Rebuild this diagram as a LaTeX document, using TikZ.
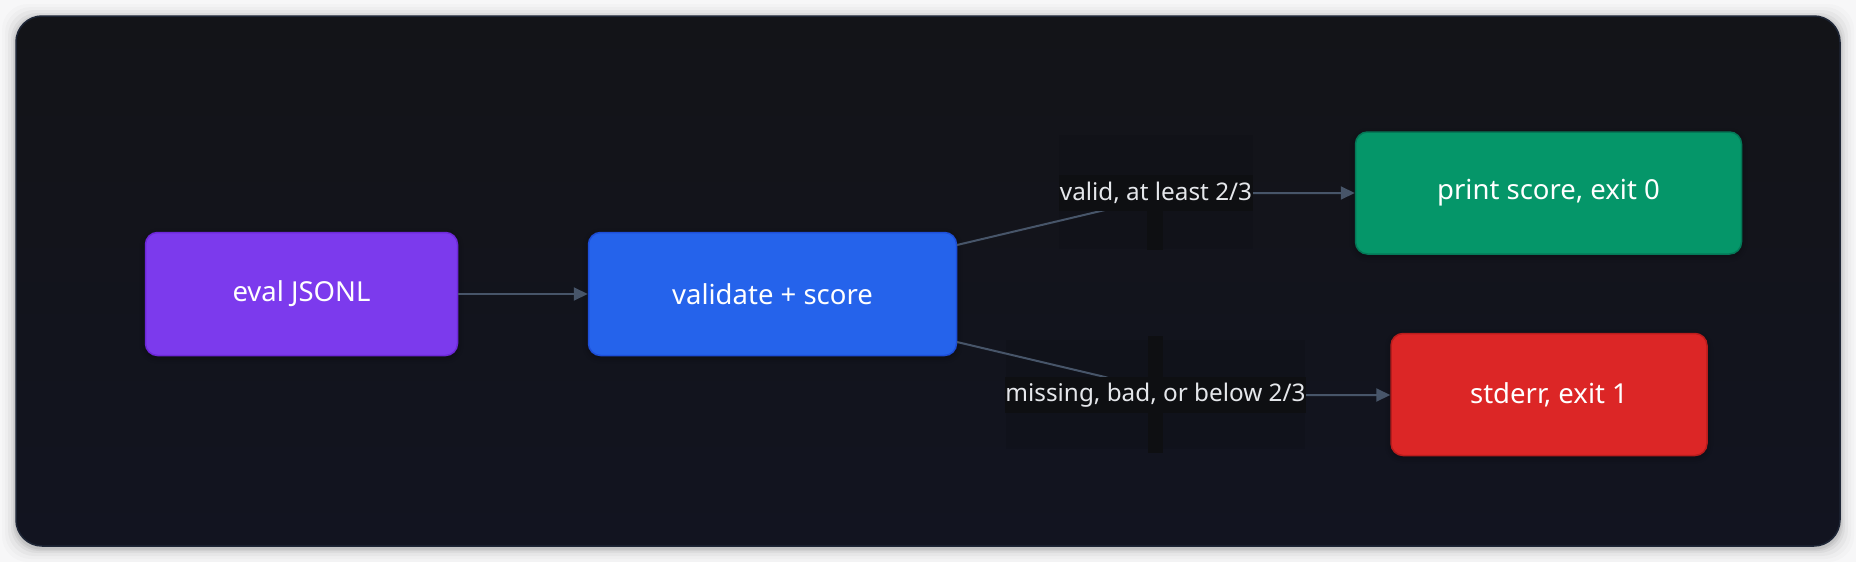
\documentclass[tikz,border=0pt]{standalone}
\usepackage{fontspec}
\setmainfont{Noto Sans}
\usetikzlibrary{arrows.meta,shadows.blur}
\definecolor{pagebg}{HTML}{F7F7F8}
\definecolor{cardtop}{HTML}{131418}
\definecolor{cardbot}{HTML}{121420}
\definecolor{cardedge}{HTML}{1E2636}
\definecolor{edgecol}{HTML}{475569}
\definecolor{labelbg}{HTML}{0E0F12}
\definecolor{labeltxt}{HTML}{E5E7EB}
\definecolor{violetf}{HTML}{7C3AED}\definecolor{violetd}{HTML}{6D28D9}
\definecolor{bluef}{HTML}{2563EB}\definecolor{blued}{HTML}{1D4ED8}
\definecolor{greenf}{HTML}{059669}\definecolor{greend}{HTML}{047857}
\definecolor{redf}{HTML}{DC2626}\definecolor{redd}{HTML}{B91C1C}
\tikzset{
  box/.style={rounded corners=12pt, line width=1.5pt, inner sep=0pt,
    text=white, font=\fontsize{27.5}{32}\selectfont,
    blur shadow={shadow xshift=0pt, shadow yshift=-2pt, shadow blur radius=6pt, shadow opacity=35}},
  lbl/.style={fill=labelbg, inner sep=0pt, text=labeltxt, font=\fontsize{24.3}{28}\selectfont},
  conn/.style={draw=edgecol, line width=2pt, -{Triangle[length=14pt,width=13pt]}},
  faint/.style={fill=black, fill opacity=0.07, draw=none},
  strip/.style={fill=labelbg, draw=none},
}
\begin{document}
\begin{tikzpicture}[x=1pt,y=-1pt]
\useasboundingbox (0,0) rectangle (1856,562);
\fill[pagebg] (0,0) rectangle (1856,562);
% card shadow
\foreach \i/\o in {14/0.015,11/0.02,8/0.03,5/0.04,3/0.05,1.5/0.06}{
  \fill[black, opacity=\o, rounded corners=26pt] (16-\i,16-\i+2) rectangle (1840+\i,546+\i+2);
}
\shade[top color=cardtop, bottom color=cardbot, rounded corners=26pt] (16,16) rectangle (1840,546);
\draw[cardedge, line width=1.5pt, rounded corners=26pt] (16,16) rectangle (1840,546);

% faint label artefacts
\fill[faint] (1059,135) rectangle (1253,249);
\fill[faint] (1006,340) rectangle (1305,449);
\fill[strip] (1147,211) rectangle (1163,250);
\fill[strip] (1148,336) rectangle (1163,453);

% nodes
\node[box, fill=violetf, draw=violetd, minimum width=312pt, minimum height=123pt] (eval) at (301.5,294) {eval JSONL};
\node[box, fill=bluef, draw=blued, minimum width=368pt, minimum height=123pt] (val) at (772.5,294) {validate + score};
\node[box, fill=greenf, draw=greend, minimum width=386pt, minimum height=122pt] (ok) at (1548.5,193) {print score, exit 0};
\node[box, fill=redf, draw=redd, minimum width=316pt, minimum height=122pt] (err) at (1549,394.5) {stderr, exit 1};

% connectors
\coordinate (u1) at (957,245);
\coordinate (d1) at (957,342);
\draw[conn] (eval.east) -- (val.west);
\draw[conn] (u1) -- (1105,210) .. controls (1135,202) and (1150,193) .. (1200,193) -- (ok.west |- 0,193);
\draw[conn] (d1) -- (1105,377) .. controls (1135,386) and (1150,395) .. (1200,395) -- (err.west |- 0,395);

% labels
\node[lbl, minimum width=194pt, minimum height=36pt] (l1) at (1156,193) {valid, at least 2/3};
\node[lbl, minimum width=299pt, minimum height=36pt] (l2) at (1155.5,395) {missing, bad, or below 2/3};
\end{tikzpicture}
\end{document}
